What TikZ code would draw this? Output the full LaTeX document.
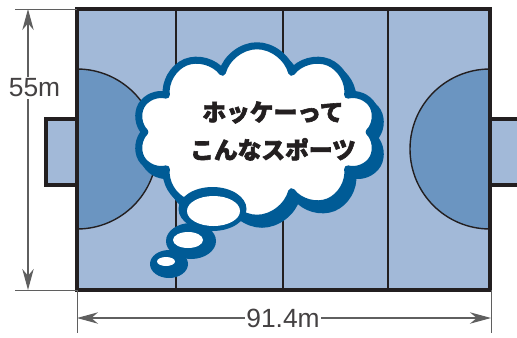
\documentclass[tikz,border=0pt]{standalone}
\usepackage{fontspec}
\newfontfamily\dimfont{Liberation Sans}
\newfontfamily\jpfont{Noto Sans CJK JP}[BoldFeatures={FakeBold=2.5}]
\usetikzlibrary{arrows.meta,shapes.symbols}
\definecolor{fieldblue}{RGB}{162,185,216}
\definecolor{goalblue}{RGB}{107,149,193}
\definecolor{cloudblue}{RGB}{0,91,150}
\definecolor{linedark}{RGB}{35,31,32}
\definecolor{dimgray}{RGB}{95,95,95}
\tikzset{dimline/.style = {draw=dimgray, line width=0.6pt,
          {Stealth[length=12pt,width=6.5pt]}-{Stealth[length=12pt,width=6.5pt]}}}
\tikzset{extline/.style = {draw=dimgray, line width=0.5pt}}
\tikzset{dimlabel/.style = {fill=white, inner sep=1pt, text=linedark!85,
          font=\dimfont\fontsize{15}{18}\selectfont}}
\tikzset{puff/.style = {cloud, cloud puffs=10, cloud ignores aspect,
          minimum width=4.86cm, minimum height=3.45cm,
          line width=4pt, line join=round, draw=cloudblue}}

\begin{document}
\begin{tikzpicture}
  \useasboundingbox (0,0) rectangle (10.34,6.74);
  % goal boxes
  \draw[fill=fieldblue, draw=linedark, line width=1.8pt] (0.92,3.04) rectangle (1.54,4.36);
  \draw[fill=fieldblue, draw=linedark, line width=1.8pt] (9.80,3.04) rectangle (10.6,4.36);
  % pitch
  \fill[fieldblue] (1.54,0.94) rectangle (9.80,6.56);
  \fill[goalblue] (1.54,5.36) arc (90:-90:1.6) -- cycle;
  \fill[goalblue] (9.80,5.36) arc (90:270:1.6) -- cycle;
  \draw[linedark, line width=0.8pt] (1.54,5.36) arc (90:-90:1.6);
  \draw[linedark, line width=0.8pt] (9.80,5.36) arc (90:270:1.6);
  \foreach \x in {3.52,5.66,7.76}
    \draw[linedark, line width=1.1pt] (\x,0.94) -- (\x,6.56);
  \draw[linedark, line width=1.8pt] (1.54,0.94) rectangle (9.80,6.56);

  % dimensions
  \coordinate (ht) at (0.56,6.56);
  \coordinate (hb) at (0.56,0.94);
  \coordinate (wl) at (1.54,0.38);
  \coordinate (wr) at (9.82,0.38);
  \draw[extline] (0.30,6.56) -- (1.54,6.56);
  \draw[extline] (0.30,0.94) -- (1.54,0.94);
  \draw[extline] (1.54,0.94) -- (1.54,0.08);
  \draw[extline] (9.82,0.94) -- (9.82,0.08);
  \draw[dimline] (ht) -- (hb);
  \draw[dimline] (wl) -- (wr);
  \node[dimlabel] (height) at (0.69,4.98) {55m};
  \node[dimlabel] (length) at (5.66,0.38) {91.4m};

  % thought cloud
  \node[puff, fill=cloudblue] (shade) at (5.24,3.98) {};
  \node[puff, fill=white] (thought) at (5.14,4.10) {};
  \fill[cloudblue] (4.25,2.56) ellipse (0.68 and 0.44);
  \fill[cloudblue] (3.82,1.92) ellipse (0.50 and 0.36);
  \fill[cloudblue] (3.38,1.46) ellipse (0.38 and 0.28);
  \fill[white] (4.27,2.52) ellipse (0.53 and 0.30);
  \fill[white] (3.76,1.94) ellipse (0.30 and 0.16);
  \fill[white] (3.32,1.51) ellipse (0.18 and 0.09);
  \node[font=\jpfont\bfseries\fontsize{13.5}{21.5}\selectfont, text=linedark,
        align=center] (words) at (5.46,4.12) {ホッケーって\\こんなスポーツ};
\end{tikzpicture}
\end{document}
